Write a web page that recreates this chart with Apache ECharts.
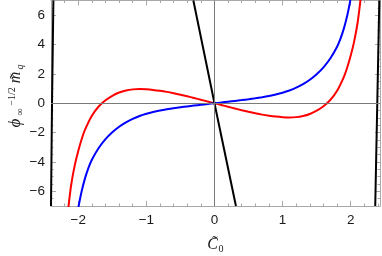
<!DOCTYPE html>
<html><head><meta charset="utf-8">
<script src="https://cdn.jsdelivr.net/npm/echarts@6/dist/echarts.min.js"></script>
<style>html,body{margin:0;padding:0;background:#fff}#c{width:382px;height:256px}</style>
</head><body><div id="c"></div>
<script>
// ---- data ----
const blueX = [-2.01,-1.99,-1.95,-1.9,-1.85,-1.8,-1.7,-1.6,-1.5,-1.4,-1.3,-1.2,-1.1,-1.0,-0.9,-0.8,-0.7,-0.6,-0.5,-0.4,-0.3,-0.2,-0.1,0,
               0.1,0.2,0.3,0.4,0.5,0.6,0.7,0.8,0.9,1.0,1.1,1.2,1.3,1.4,1.5,1.6,1.7,1.8,1.85,1.9,1.95,1.99,2.01];
const blueY = [-7.5,-6.9,-6.0,-5.1,-4.4,-3.85,-3.05,-2.45,-1.98,-1.6,-1.3,-1.06,-0.87,-0.72,-0.6,-0.5,-0.415,-0.34,-0.275,-0.215,-0.16,-0.105,-0.05,0,
               0.05,0.105,0.16,0.215,0.275,0.34,0.415,0.5,0.6,0.72,0.87,1.06,1.3,1.6,1.98,2.45,3.05,3.85,4.4,5.1,6.0,6.9,7.5];
const redX = [-2.17,-2.14,-2.1,-2.05,-2.0,-1.95,-1.9,-1.8,-1.7,-1.6,-1.5,-1.4,-1.3,-1.2,-1.1,-1.0,-0.9,-0.8,-0.7,-0.6,-0.5,-0.4,-0.3,-0.2,-0.1,0,
              0.1,0.2,0.3,0.4,0.5,0.6,0.7,0.8,0.9,1.0,1.1,1.2,1.3,1.4,1.5,1.6,1.7,1.8,1.9,1.95,2.0,2.05,2.1,2.14,2.17];
const redY = [-8.3,-6.9,-5.45,-4.2,-3.25,-2.45,-1.8,-0.85,-0.22,0.2,0.51,0.73,0.87,0.945,0.965,0.95,0.91,0.85,0.775,0.685,0.585,0.475,0.36,0.24,0.12,0,
              -0.12,-0.24,-0.36,-0.475,-0.585,-0.685,-0.775,-0.85,-0.91,-0.95,-0.965,-0.945,-0.87,-0.73,-0.51,-0.2,0.22,0.85,1.8,2.45,3.25,4.2,5.45,6.9,8.3];
const blackMidX = [-0.31,0,0.315];
const blackMidY = [7,0,-7];
const blackLeftX = [-2.40,-2.385,-2.365];
const blackLeftY = [-7,0,7];
const blackRightX = [2.36,2.39,2.42];
const blackRightY = [-7,0,7];
const xTicks = [-2,-1,0,1,2];
const yTicks = [-6,-4,-2,0,2,4,6];
const xRange = [-2.4, 2.43];
const yRange = [-7, 7];

const pts = (xs, ys) => xs.map((x, i) => [x, ys[i]]);
const fmt = v => (v < 0 ? '\u2212' + Math.abs(v) : String(v));
const frameColor = '#a8a8a8';

const chart = echarts.init(document.getElementById('c'), null, {renderer: 'canvas'});

function xAxisDef(pos, opts) {
  return Object.assign({
    type: 'value', position: pos, min: xRange[0], max: xRange[1], splitNumber: 5,
    axisLine: {show: true, onZero: false, lineStyle: {color: frameColor, width: 1}},
    axisTick: {show: true, inside: true, length: 5, lineStyle: {color: frameColor}},
    axisLabel: {show: false},
    splitLine: {show: false}
  }, opts);
}
function yAxisDef(pos, opts) {
  return Object.assign({
    type: 'value', position: pos, min: yRange[0], max: yRange[1], splitNumber: 7,
    axisLine: {show: true, onZero: false, lineStyle: {color: frameColor, width: 1}},
    axisTick: {show: true, inside: true, length: 5, lineStyle: {color: frameColor}},
    axisLabel: {show: false},
    splitLine: {show: false}
  }, opts);
}
const minorLine = {show: false, onZero: false};
const minorTick = {show: true, inside: true, length: 2.5, lineStyle: {color: frameColor}};
const labelStyle = {color: '#1a1a1a', fontSize: 13.5, fontFamily: 'Liberation Sans, Arial, sans-serif'};

const option = {
  animation: false,
  grid: {left: 51, right: 2, top: 0.5, bottom: 50, containLabel: false},
  xAxis: [
    xAxisDef('bottom', {axisLabel: Object.assign({show: true, margin: 7, showMinLabel: false, showMaxLabel: false,
      formatter: v => (xTicks.indexOf(v) >= 0 ? fmt(v) : '')}, labelStyle)}),
    xAxisDef('top', {}),
    xAxisDef('bottom', {interval: 0.2, axisLine: minorLine, axisTick: minorTick}),
    xAxisDef('top', {interval: 0.2, axisLine: minorLine, axisTick: minorTick})
  ],
  yAxis: [
    yAxisDef('left', {axisLabel: Object.assign({show: true, margin: 6, showMinLabel: false, showMaxLabel: false,
      formatter: v => (yTicks.indexOf(v) >= 0 ? fmt(v) : '')}, labelStyle)}),
    yAxisDef('right', {}),
    yAxisDef('left', {interval: 0.5, axisLine: minorLine, axisTick: minorTick}),
    yAxisDef('right', {interval: 0.5, axisLine: minorLine, axisTick: minorTick})
  ],
  series: [
    {type: 'line', data: [], silent: true,
      markLine: {silent: true, symbol: 'none', label: {show: false},
        lineStyle: {color: '#7a7a7a', width: 1, type: 'solid'},
        data: [{xAxis: 0}, {yAxis: 0}]}},
    {type: 'line', data: pts(redX, redY), smooth: 0.2, showSymbol: false, lineStyle: {color: '#ff0000', width: 2}, z: 3},
    {type: 'line', data: pts(blueX, blueY), smooth: 0.2, showSymbol: false, lineStyle: {color: '#0000ff', width: 2}, z: 3},
    {type: 'line', data: pts(blackMidX, blackMidY), showSymbol: false, lineStyle: {color: '#000', width: 2}, z: 4},
    {type: 'line', data: pts(blackLeftX, blackLeftY), showSymbol: false, lineStyle: {color: '#000', width: 2}, z: 4},
    {type: 'line', data: pts(blackRightX, blackRightY), showSymbol: false, lineStyle: {color: '#000', width: 2}, z: 4}
  ],
  graphic: [
    {type: 'text', x: 212.5, y: 245, style: {text: 'C\u0303', fontSize: 16, fontStyle: 'italic', fontFamily: 'Liberation Serif, DejaVu Serif, serif', fill: '#1a1a1a', align: 'center', verticalAlign: 'middle'}},
    {type: 'text', x: 221, y: 249, style: {text: '0', fontSize: 10, fontFamily: 'Liberation Serif, serif', fill: '#1a1a1a', align: 'center', verticalAlign: 'middle'}},
    {type: 'text', x: 16, y: 123, rotation: Math.PI / 2, style: {text: '\u03d5', fontSize: 17, fontStyle: 'italic', fontFamily: 'Liberation Serif, DejaVu Serif, serif', fill: '#1a1a1a', align: 'center', verticalAlign: 'middle'}},
    {type: 'text', x: 20.5, y: 112, rotation: Math.PI / 2, style: {text: '\u221e', fontSize: 10, fontFamily: 'Liberation Serif, DejaVu Serif, serif', fill: '#1a1a1a', align: 'center', verticalAlign: 'middle'}},
    {type: 'text', x: 12.5, y: 96.5, rotation: Math.PI / 2, style: {text: '\u22121/2', fontSize: 10, fontFamily: 'Liberation Serif, DejaVu Serif, serif', fill: '#1a1a1a', align: 'center', verticalAlign: 'middle'}},
    {type: 'text', x: 16, y: 77.5, rotation: Math.PI / 2, style: {text: 'm\u0303', fontSize: 16, fontStyle: 'italic', fontFamily: 'Liberation Serif, DejaVu Serif, serif', fill: '#1a1a1a', align: 'center', verticalAlign: 'middle'}},
    {type: 'text', x: 20, y: 67, rotation: Math.PI / 2, style: {text: 'q', fontSize: 10, fontStyle: 'italic', fontFamily: 'Liberation Serif, serif', fill: '#1a1a1a', align: 'center', verticalAlign: 'middle'}}
  ]
};
chart.setOption(option);
</script></body></html>
